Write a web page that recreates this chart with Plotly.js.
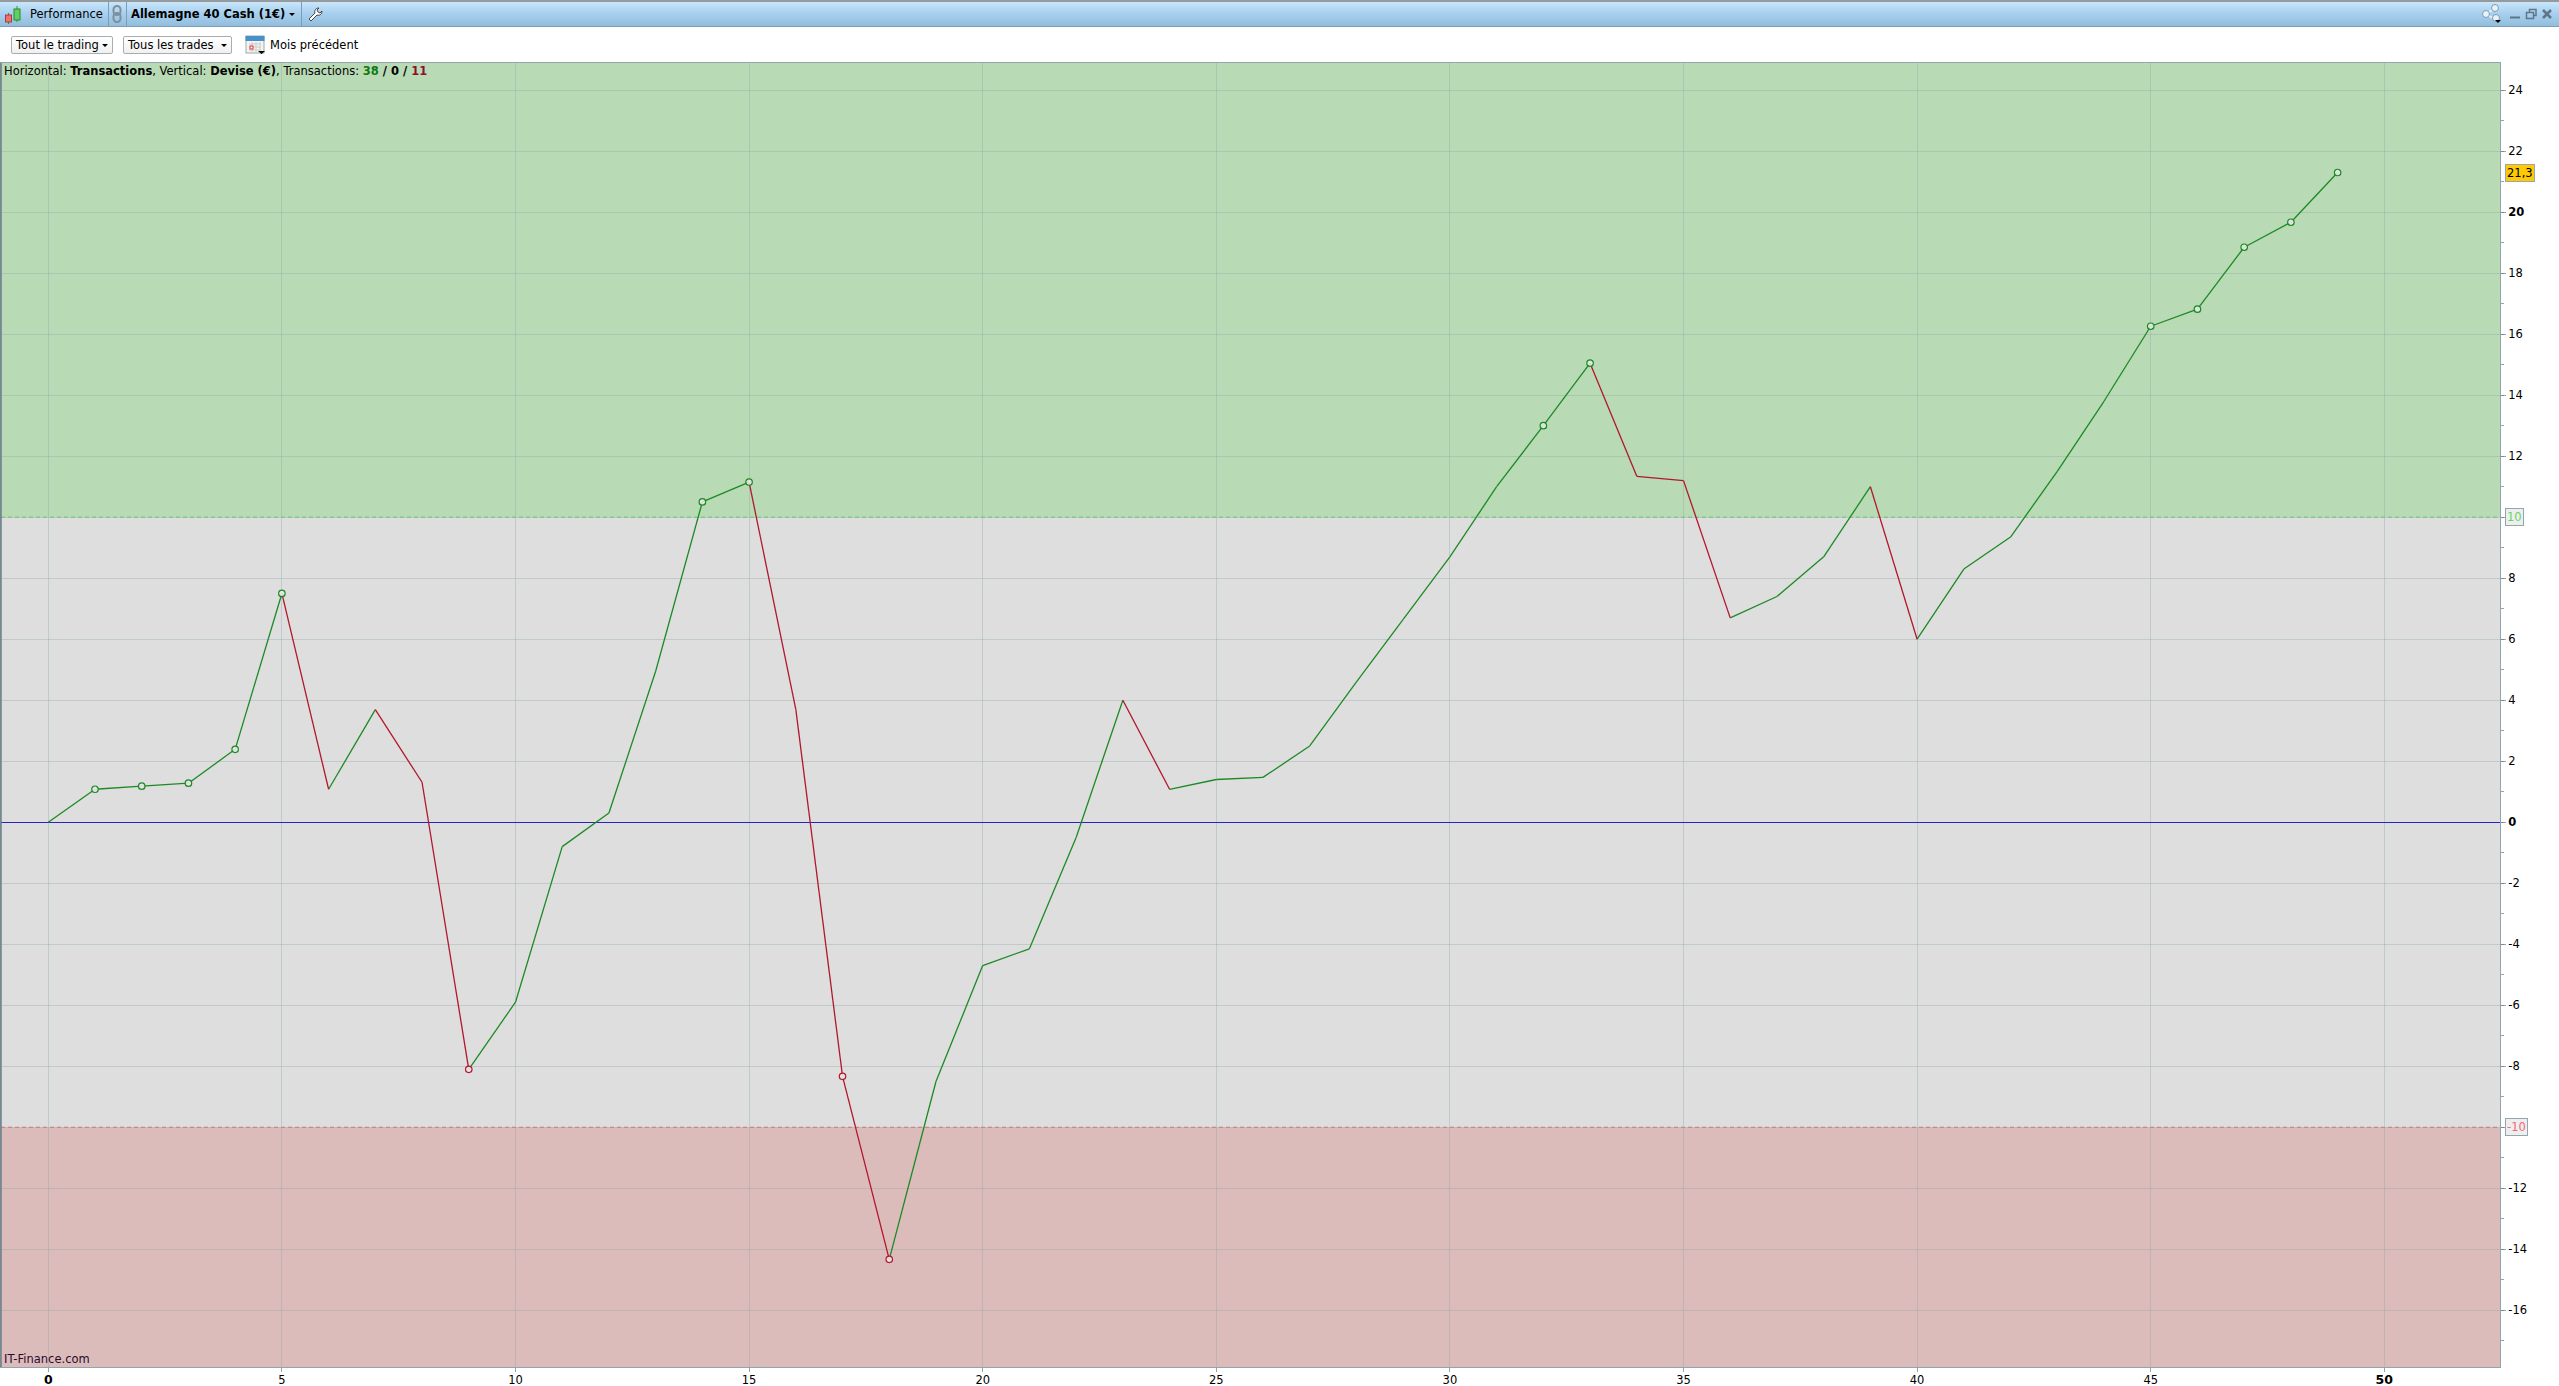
<!DOCTYPE html>
<html><head><meta charset="utf-8">
<script src="https://cdn.plot.ly/plotly-3.0.1.min.js"></script>
<style>
html,body{margin:0;padding:0;background:#fff;overflow:hidden;width:2559px;height:1386px;font-family:"DejaVu Sans",sans-serif;font-size:11.5px;color:#000}
#chart{position:absolute;left:0;top:0;width:2559px;height:1386px}
#bar{position:absolute;left:0;top:0;width:2559px;height:24px;border-top:2px solid #979a9c;border-bottom:1px solid #7d9db6;background:linear-gradient(#c8e6fa,#a9d1ef 45%,#93bddd)}
.t{position:absolute;white-space:nowrap;line-height:14px}
.sep{position:absolute;top:2px;height:24px;width:1px;background:#7d9db6}
.btn{position:absolute;top:36px;height:16px;border:1px solid #a9adb0;border-radius:2px;background:linear-gradient(#fff,#f0f0f0)}
svg{position:absolute;overflow:visible}
</style></head><body>
<div id="chart"></div>
<div id="bar"></div>
<div class="sep" style="left:108px"></div><div class="sep" style="left:126px"></div><div class="sep" style="left:301px"></div>
<svg style="left:0;top:0" width="2559" height="60">
 <path d="M8.5 13V24M17 6V22" stroke="#3a8a3a" stroke-width="1"/>
 <rect x="5.5" y="15" width="6" height="7" fill="#f07070" stroke="#a04040"/>
 <rect x="14" y="9" width="6" height="11" fill="#60d060" stroke="#2a8a2a"/>
 <rect x="113.5" y="6" width="7" height="9" rx="3.5" fill="none" stroke="#7f8f99" stroke-width="2"/>
 <rect x="113.5" y="13" width="7" height="9" rx="3.5" fill="none" stroke="#7f8f99" stroke-width="2"/>
 <path d="M289 13h6l-3 3z" fill="#000"/>
 <path d="M309 19l6-6c-1-3 1-5 4-5l-2 2 1 2 2 1 2-2c0 3-2 5-5 4l-6 6z" fill="#fff" stroke="#222" stroke-width=".8"/>
 <rect x="246" y="36" width="18" height="17" fill="#f4f4f4" stroke="#9aa"/>
 <rect x="245.5" y="36" width="19" height="5" fill="#4a90c8"/>
 <path d="M249 44h12M249 47h12M249 50h12M252 42v10M256 42v10M260 42v10" stroke="#ccc"/>
 <rect x="250" y="46" width="3" height="3" fill="#fff" stroke="#e03030"/>
 <path d="M258 51h7l-3.500 3z" fill="#000"/>
 <path d="M2486 14l10-6M2486 14l10 6" stroke="#e8f2f8" stroke-width="2"/>
 <circle cx="2486" cy="14" r="3.500" fill="#e8f2f8" stroke="#7f9bb0"/><circle cx="2495" cy="8" r="3.500" fill="#e8f2f8" stroke="#7f9bb0"/><circle cx="2496" cy="18" r="3.500" fill="#e8f2f8" stroke="#7f9bb0"/>
 <path d="M2495 20h6l-3 3z" fill="#000"/>
 <path d="M2510 17.500h10" stroke="#5f7688" stroke-width="2"/>
 <rect x="2526.500" y="12.500" width="7" height="6" fill="none" stroke="#5f7688" stroke-width="1.500"/><path d="M2529.500 12v-2.500h6.500v6h-2.500" fill="none" stroke="#5f7688" stroke-width="1.500"/>
 <path d="M2543 10l8 8M2551 10l-8 8" stroke="#5f7688" stroke-width="2.500"/>
</svg>
<div class="t" style="left:30px;top:7px">Performance</div>
<div class="t" style="left:131px;top:7px;font-weight:bold">Allemagne 40 Cash (1€)</div>
<div class="btn" style="left:11px;width:100px"></div>
<div class="btn" style="left:123px;width:107px"></div>
<div class="t" style="left:16px;top:38px">Tout le trading</div>
<div class="t" style="left:128px;top:38px">Tous les trades</div>
<svg style="left:0;top:0" width="300" height="60"><path d="M102 44h6l-3 3zM221 44h6l-3 3z" fill="#000"/></svg>
<div class="t" style="left:270px;top:38px">Mois précédent</div>
<script>
// Chart data
const transactions = [0,1,2,3,4,5,6,7,8,9,10,11,12,13,14,15,16,17,18,19,20,21,22,23,24,25,26,27,28,29,30,31,32,33,34,35,36,37,38,39,40,41,42,43,44,45,46,47,48,49];
const devise = [0,1.08,1.18,1.28,2.39,7.5,1.08,3.69,1.31,-8.1,-5.9,-0.8,0.3,4.95,10.5,11.15,3.7,-8.33,-14.33,-8.5,-4.7,-4.15,-0.5,4.0,1.08,1.4,1.47,2.5,4.6,6.65,8.7,11.0,13.0,15.05,11.34,11.2,6.7,7.4,8.7,11.0,6.0,8.3,9.35,11.5,13.8,16.26,16.82,18.85,19.67,21.3];
const markedGreen = [1,2,3,4,5,14,15,32,33,45,46,47,48,49];
const markedRed = [9,17,18];
const xTicks = [0,5,10,15,20,25,30,35,40,45,50];
const xBold = [0,50];
const yTicks = [-16,-14,-12,-10,-8,-6,-4,-2,0,2,4,6,8,10,12,14,16,18,20,22,24];
const yBold = [0,20];
const yBoxed = [-10,10];
const upperLimit = 10, lowerLimit = -10, lastValue = 21.3;
const lastLabel = '21,3';

const GREEN='#1c8a24', RED='#b2172c';
function segments(up){
  const x=[],y=[];
  for(let i=1;i<devise.length;i++){
    if((devise[i]>=devise[i-1])===up){
      x.push(transactions[i-1],transactions[i],null);
      y.push(devise[i-1],devise[i],null);
    }
  }
  return {x,y};
}
function lineTrace(up){
  const s=segments(up);
  return {type:'scatter',mode:'lines',x:s.x,y:s.y,line:{color:up?GREEN:RED,width:1.3},hoverinfo:'skip',showlegend:false};
}
function markTrace(idx,c){
  return {type:'scatter',mode:'markers',x:idx.map(i=>transactions[i]),y:idx.map(i=>devise[i]),
    marker:{symbol:'circle',size:6.500,color:'rgba(232,232,232,0.9)',line:{color:c,width:1.200}},hoverinfo:'skip',showlegend:false};
}
const W=2559,H=1386,L=1,R=59,T=63,B=19;
const xRange=[-1.012,52.476], yRange=[-17.86,24.89];
const px=v=>(v-L)/(W-L-R);
const axisCol='rgba(105,130,140,0.72)', gridCol='rgba(140,165,165,0.36)';
const FONT='"DejaVu Sans",sans-serif';
const tickStyle={size:11.5,family:FONT,color:'#000'};
const boldTick=v=>'<b style="font-size:12.5px">'+v+'</b>';
const layout={
  width:W,height:H,margin:{l:L,r:R,t:T,b:B,pad:0},
  paper_bgcolor:'rgba(0,0,0,0)',plot_bgcolor:'#dedede',showlegend:false,
  xaxis:{range:xRange,tickmode:'array',tickvals:xTicks,ticktext:xTicks.map(v=>xBold.includes(v)?boldTick(v):String(v)),
    showgrid:true,gridcolor:gridCol,gridwidth:1,zeroline:false,ticks:'outside',ticklen:4,tickcolor:axisCol,tickfont:tickStyle,ticklabelstandoff:-2,
    showline:true,linecolor:axisCol,linewidth:1,mirror:true,fixedrange:true},
  yaxis:{range:yRange,side:'right',tickmode:'array',tickvals:yTicks,
    ticktext:yTicks.map(v=>yBoxed.includes(v)?'':(yBold.includes(v)?'<b>'+v+'</b>':String(v))),
    showgrid:true,gridcolor:gridCol,gridwidth:1,zeroline:true,zerolinecolor:'#2424c8',zerolinewidth:1.4,
    ticks:'outside',ticklen:5,tickcolor:axisCol,tickfont:tickStyle,
    minor:{dtick:1,tick0:1,ticks:'outside',ticklen:3,tickcolor:axisCol,showgrid:false},
    showline:true,linecolor:axisCol,linewidth:1,mirror:true,fixedrange:true},
  shapes:[
    {type:'rect',layer:'below',xref:'paper',yref:'y',x0:0,x1:1,y0:upperLimit,y1:yRange[1],fillcolor:'#b8dab5',line:{width:0}},
    {type:'rect',layer:'below',xref:'paper',yref:'y',x0:0,x1:1,y0:yRange[0],y1:lowerLimit,fillcolor:'#dcbcbb',line:{width:0}},
    {type:'line',layer:'below',xref:'paper',yref:'y',x0:0,x1:1,y0:upperLimit,y1:upperLimit,line:{color:'#62cc62',width:1,dash:'4px,3px'}},
    {type:'line',layer:'below',xref:'paper',yref:'y',x0:0,x1:1,y0:lowerLimit,y1:lowerLimit,line:{color:'#ea6068',width:1,dash:'4px,3px'}},
    {type:'line',layer:'above',xref:'paper',yref:'paper',x0:0,x1:0,y0:0,y1:1,line:{color:'#6c7f88',width:1.500}}
  ],
  annotations:[
    {xref:'paper',yref:'paper',x:px(3),y:1,xanchor:'left',yanchor:'top',showarrow:false,align:'left',borderpad:0,
     font:{size:11.5,family:FONT,color:'#000'},
     text:'Horizontal: <b>Transactions</b>, Vertical: <b>Devise (€)</b>, Transactions: <b><span style="color:#0f7a0f">38</span> / 0 / <span style="color:#8f0f2a">11</span></b>'},
    {xref:'paper',yref:'paper',x:px(3),y:0,xanchor:'left',yanchor:'bottom',showarrow:false,borderpad:0,
     font:{size:11.5,family:FONT,color:'#2a0a30'},text:'IT-Finance.com'},
    {xref:'paper',yref:'y',x:px(2505),y:lastValue,xanchor:'left',yanchor:'middle',showarrow:false,text:lastLabel,
     bgcolor:'#fdca05',bordercolor:'#9aa6ac',borderwidth:1,borderpad:1,font:{size:11.5,family:FONT,color:'#000'}},
    {xref:'paper',yref:'y',x:px(2505),y:upperLimit,xanchor:'left',yanchor:'middle',showarrow:false,text:String(upperLimit),
     bgcolor:'#eeeeee',bordercolor:'#92a6ae',borderwidth:1,borderpad:1,font:{size:11.5,family:FONT,color:'#62d862'}},
    {xref:'paper',yref:'y',x:px(2505),y:lowerLimit,xanchor:'left',yanchor:'middle',showarrow:false,text:String(lowerLimit),
     bgcolor:'#eeeeee',bordercolor:'#92a6ae',borderwidth:1,borderpad:1,font:{size:11.5,family:FONT,color:'#ee6a7a'}}
  ]
};
Plotly.newPlot('chart',[lineTrace(true),lineTrace(false),markTrace(markedGreen,GREEN),markTrace(markedRed,RED)],layout,{displayModeBar:false,staticPlot:true,responsive:false});
</script>
</body></html>
